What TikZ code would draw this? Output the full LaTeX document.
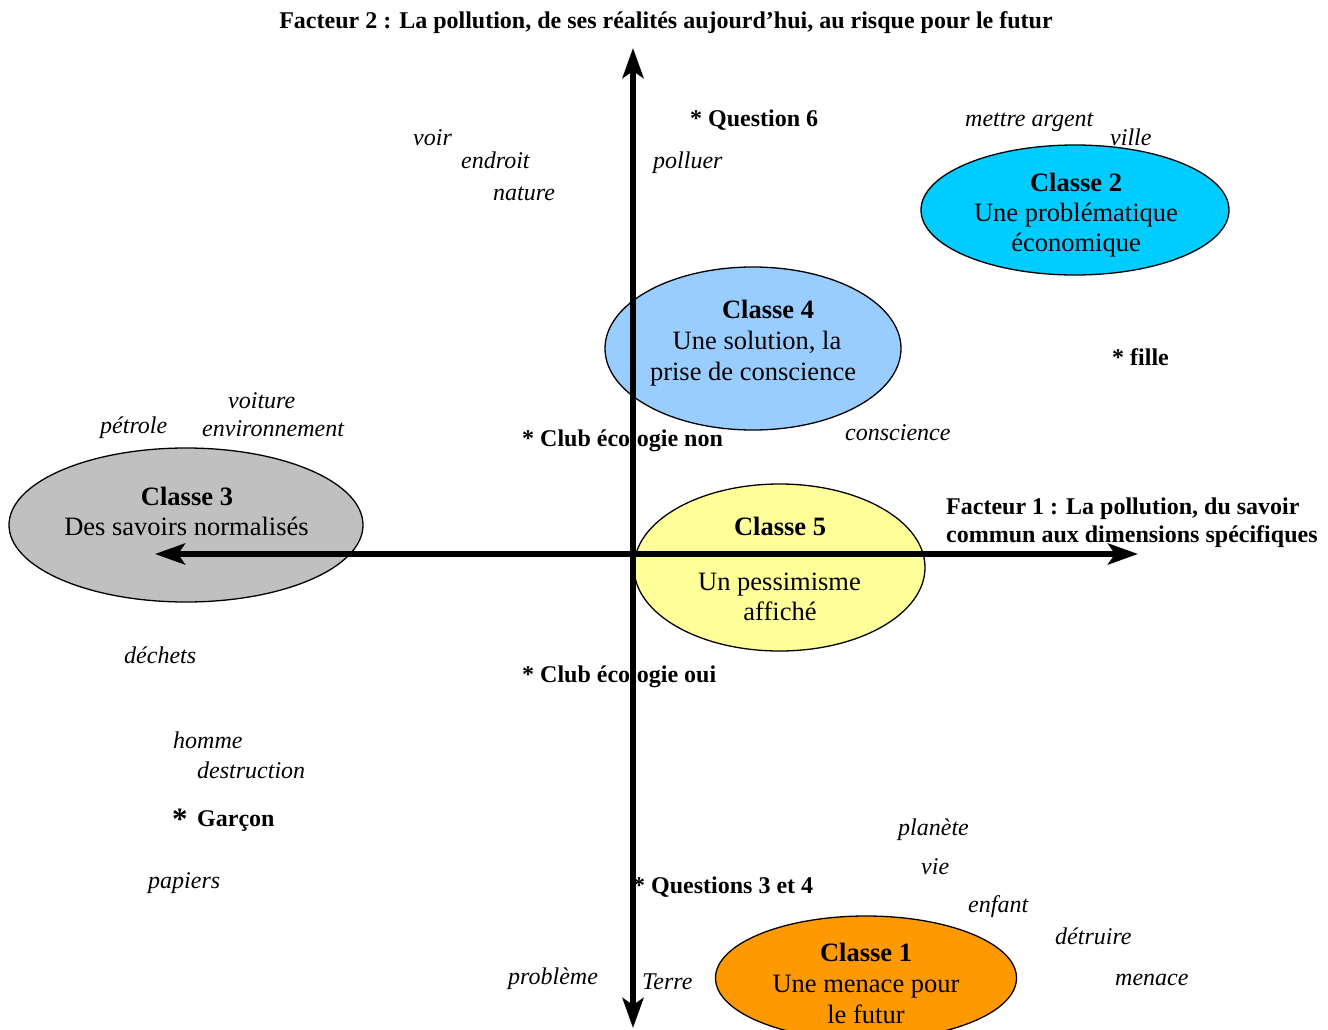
\documentclass[tikz,border=0pt]{standalone}
\usepackage{fontspec}
\setmainfont{Liberation Serif}
\usetikzlibrary{shapes.geometric,arrows.meta}
\definecolor{cOne}{HTML}{FF9900}
\definecolor{cTwo}{HTML}{00CCFF}
\definecolor{cThree}{HTML}{C0C0C0}
\definecolor{cFour}{HTML}{99CCFF}
\definecolor{cFive}{HTML}{FFFF99}
\tikzset{
  word/.style={font=\fontsize{24}{28}\selectfont\itshape, anchor=base west, inner sep=0pt},
  tag/.style={font=\fontsize{24}{28}\selectfont\bfseries, anchor=base west, inner sep=0pt},
  ttl/.style={font=\fontsize{24}{28}\selectfont\bfseries, anchor=base, inner sep=0pt},
  cls/.style={ellipse, draw=black, line width=1.3pt, inner sep=0pt},
  clsline/.style={font=\fontsize{26.5}{31}\selectfont, anchor=base, inner sep=0pt},
  clshead/.style={font=\fontsize{26.5}{31}\selectfont\bfseries, anchor=base, inner sep=0pt},
  axis/.style={line width=5.5pt,
    {Stealth[length=30pt,width=21pt,inset=7pt]}-{Stealth[length=30pt,width=21pt,inset=7pt]}}
}
\begin{document}
\begin{tikzpicture}[x=1pt,y=-1pt]
\clip (0,0) rectangle (1328,1030);
\fill[white] (0,0) rectangle (1328,1030);

% ellipses
\node[cls, fill=cTwo, minimum width=308pt, minimum height=130pt] (c2) at (1075,210) {};
\node[cls, fill=cFour, minimum width=296pt, minimum height=163pt] (c4) at (753,348.5) {};
\node[cls, fill=cThree, minimum width=354pt, minimum height=154pt] (c3) at (186,525) {};
\node[cls, fill=cFive, minimum width=291pt, minimum height=167pt] (c5) at (779.5,567.5) {};
\node[cls, fill=cOne, minimum width=301pt, minimum height=124pt] (c1) at (866,978) {};

\begin{scope}[yshift=-1.5pt]
% class texts
\node[clshead] (c2a) at (1076,190) {Classe 2};
\node[clsline] (c2b) at (1076,220) {Une problématique};
\node[clsline] (c2c) at (1076,250) {économique};

\node[clshead] (c4a) at (768,317) {Classe 4};
\node[clsline] (c4b) at (757,348) {Une solution, la};
\node[clsline] (c4c) at (753,379) {prise de conscience};

\node[clshead] (c3a) at (187,504) {Classe 3};
\node[clsline] (c3b) at (186.5,534) {Des savoirs normalisés};

\node[clshead] (c5a) at (780,534) {Classe 5};
\node[clsline] (c5b) at (779.5,589) {Un pessimisme};
\node[clsline] (c5c) at (780,619) {affiché};

\node[clshead] (c1a) at (866,960) {Classe 1};
\node[clsline] (c1b) at (866,991) {Une menace pour};
\node[clsline] (c1c) at (866,1022) {le futur};

% title and factor labels
\node[ttl] (title) at (666,27) {Facteur 2 : La pollution, de ses réalités aujourd’hui, au risque pour le futur};
\node[tag] (f1a) at (946,513) {Facteur 1 : La pollution, du savoir};
\node[tag] (f1b) at (946,541) {commun aux dimensions spécifiques};

% bold tags
\node[tag] (q6) at (690,125) {* Question 6};
\node[tag] (fille) at (1112,364) {* fille};
\node[tag] (cnon) at (522,445) {* Club écologie non};
\node[tag] (coui) at (522,681) {* Club écologie oui};
\node[tag] (q34) at (633,892) {* Questions 3 et 4};
\node[font=\fontsize{31}{34}\selectfont\bfseries, anchor=base west, inner sep=0pt] (gast) at (172,828) {*};
\node[tag] (garcon) at (197,825) {Garçon};

% italic words
\node[word] (w1) at (413,144) {voir};
\node[word] (w2) at (461,167) {endroit};
\node[word] (w3) at (493,199) {nature};
\node[word] (w4) at (653,167) {polluer};
\node[word] (w5) at (965,125) {mettre argent};
\node[word] (w6) at (1110,144) {ville};
\node[word] (w7) at (228,407) {voiture};
\node[word] (w8) at (100,432) {pétrole};
\node[word] (w9) at (202,435) {environnement};
\node[word] (w10) at (845,439) {conscience};
\node[word] (w11) at (124,662) {déchets};
\node[word] (w12) at (173,747) {homme};
\node[word] (w13) at (197,777) {destruction};
\node[word] (w14) at (898,834) {planète};
\node[word] (w15) at (148,887) {papiers};
\node[word] (w16) at (921,873) {vie};
\node[word] (w17) at (968,911) {enfant};
\node[word] (w18) at (1055,943) {détruire};
\node[word] (w19) at (508,983) {problème};
\node[word] (w20) at (642,988) {Terre};
\node[word] (w21) at (1115,984) {menace};
\end{scope}

% axes
\coordinate (vtop) at (633,48);
\coordinate (vbot) at (633,1028);
\coordinate (hleft) at (155,554);
\coordinate (hright) at (1138,554);
\draw[axis] (vbot) -- (vtop);
\draw[axis] (hleft) -- (hright);
\end{tikzpicture}
\end{document}
